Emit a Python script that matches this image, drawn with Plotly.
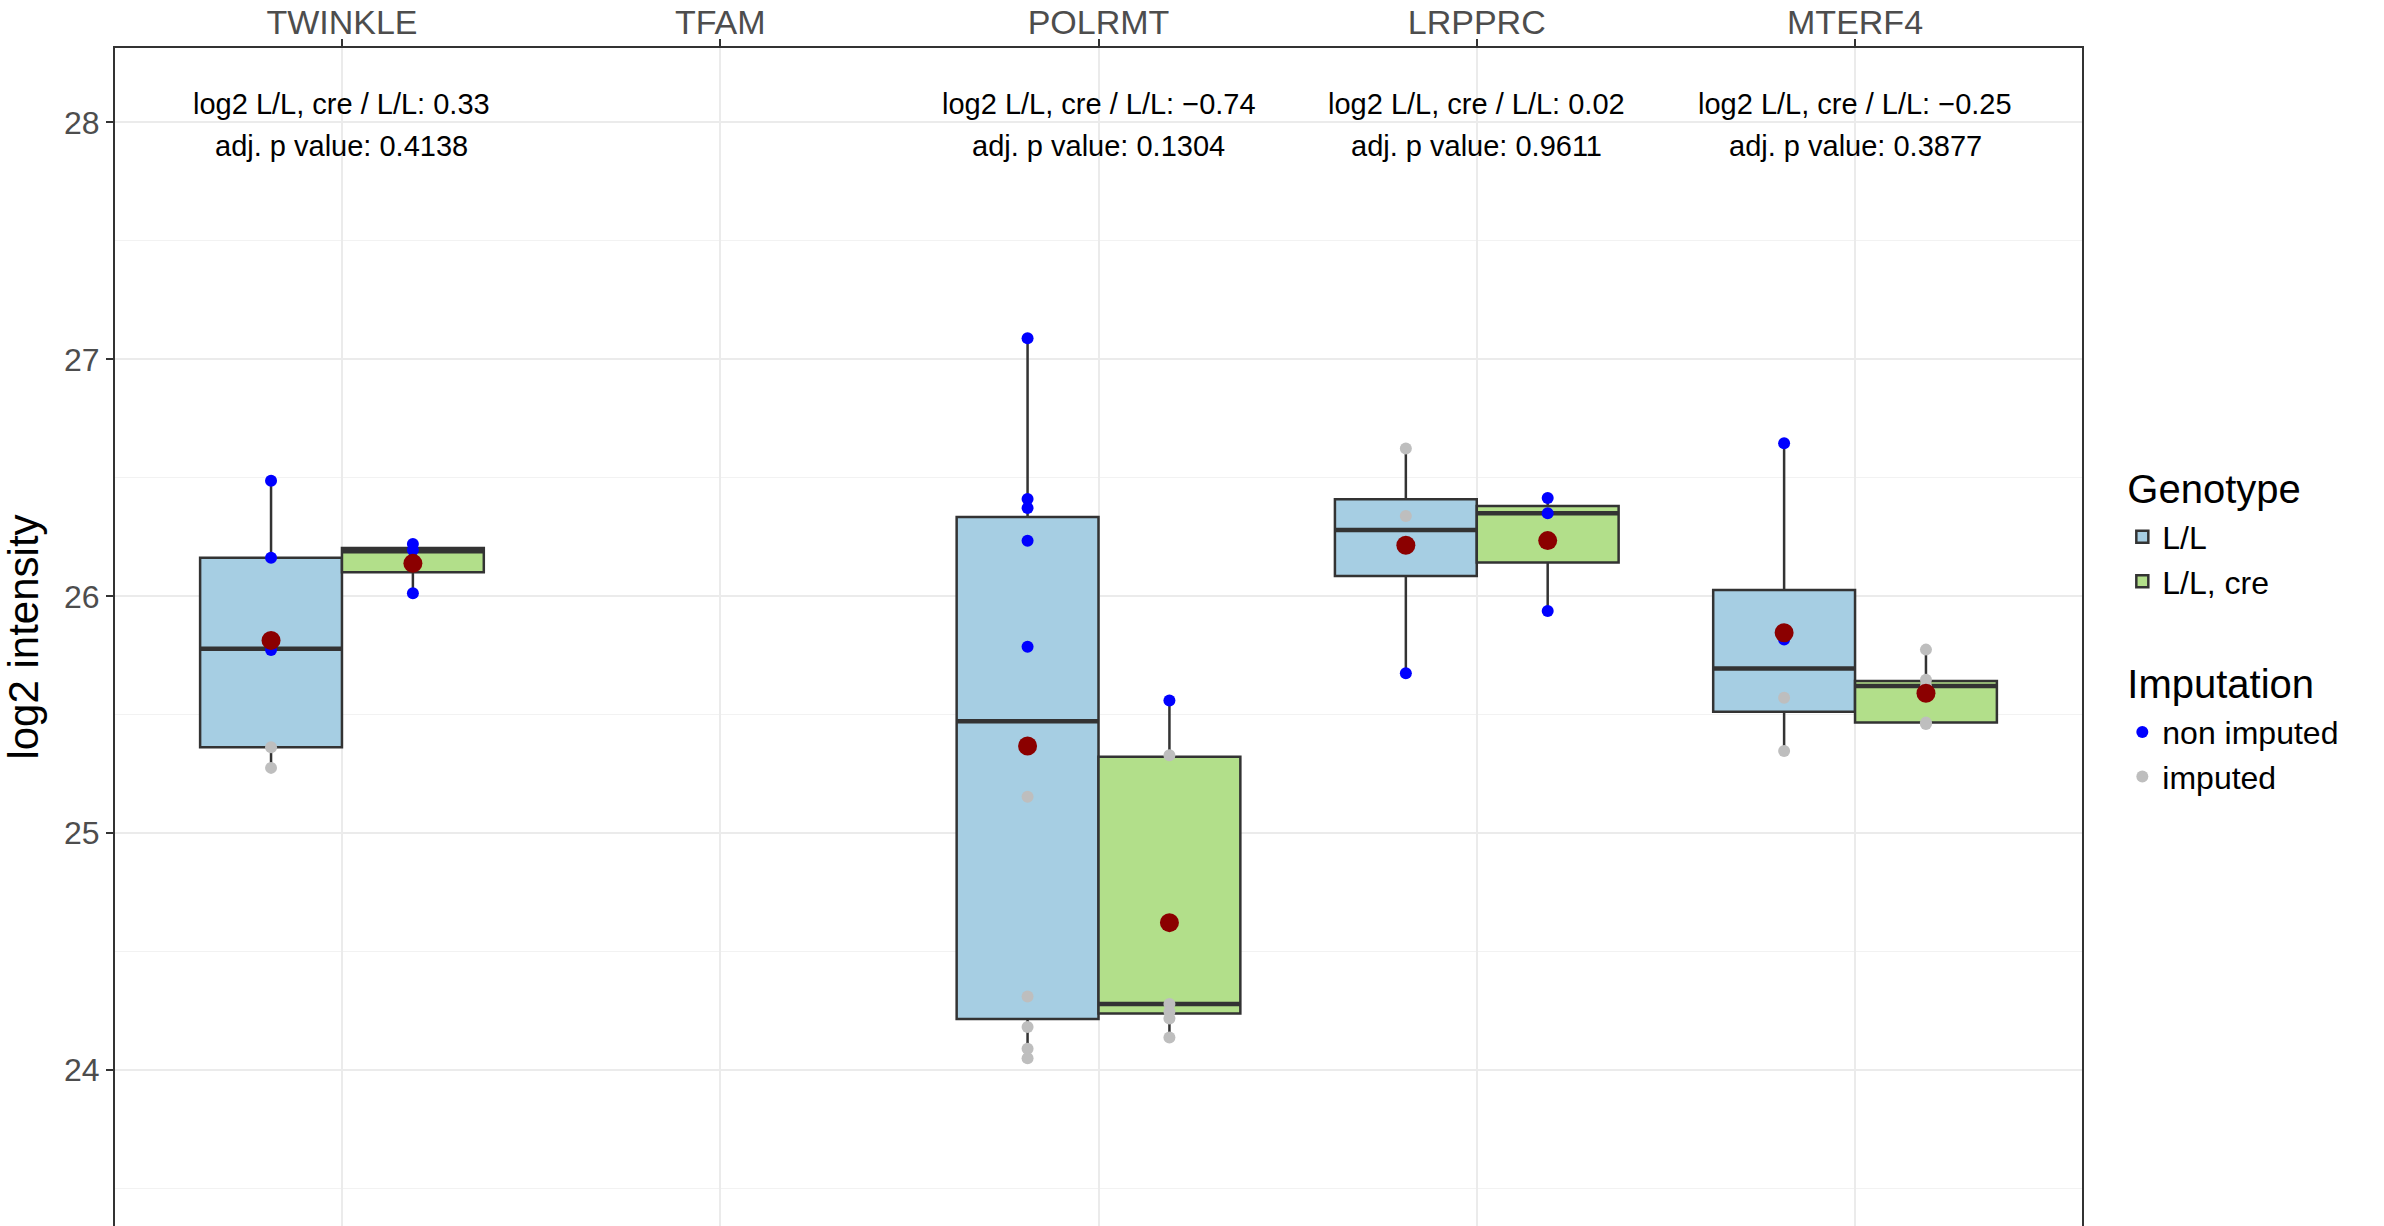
import plotly.graph_objects as go

# ---------------- data ----------------
genes = ["TWINKLE", "TFAM", "POLRMT", "LRPPRC", "MTERF4"]
genotypes = ["L/L", "L/L, cre"]
box_genes = ["TWINKLE", "POLRMT", "LRPPRC", "MTERF4"]

# box statistics per genotype (lower whisker, Q1, median, Q3, upper whisker, mean)
ll_low = [25.276, 24.051, 25.675, 25.347]
ll_q1 = [25.363, 24.216, 26.086, 25.513]
ll_med = [25.779, 25.473, 26.280, 25.695]
ll_q3 = [26.163, 26.335, 26.409, 26.027]
ll_high = [26.488, 27.089, 26.624, 26.646]
ll_mean = [25.814, 25.368, 26.215, 25.846]

cre_low = [26.013, 24.138, 25.938, 25.461]
cre_q1 = [26.101, 24.240, 26.143, 25.467]
cre_med = [26.190, 24.280, 26.350, 25.622]
cre_q3 = [26.204, 25.323, 26.381, 25.643]
cre_high = [26.221, 25.560, 26.415, 25.775]
cre_mean = [26.139, 24.623, 26.235, 25.591]

# individual samples
sample_gene = (["TWINKLE"] * 5 + ["TWINKLE"] * 3 +
               ["POLRMT"] * 10 + ["POLRMT"] * 6 +
               ["LRPPRC"] * 4 + ["LRPPRC"] * 3 +
               ["MTERF4"] * 4 + ["MTERF4"] * 5)
sample_geno = (["L/L"] * 5 + ["L/L, cre"] * 3 +
               ["L/L"] * 10 + ["L/L, cre"] * 6 +
               ["L/L"] * 4 + ["L/L, cre"] * 3 +
               ["L/L"] * 4 + ["L/L, cre"] * 5)
sample_value = [26.488, 26.163, 25.773, 25.363, 25.276,
                26.221, 26.195, 26.013,
                27.089, 26.411, 26.373, 26.234, 25.787, 25.154, 24.311, 24.183, 24.091, 24.051,
                25.560, 25.329, 24.280, 24.247, 24.219, 24.138,
                26.624, 26.339, 26.223, 25.675,
                26.415, 26.350, 25.938,
                26.646, 25.818, 25.572, 25.347,
                25.775, 25.648, 25.622, 25.467, 25.461]
sample_imputed = [False, False, False, True, True,
                  False, False, False,
                  False, False, False, False, False, True, True, True, True, True,
                  False, True, True, True, True, True,
                  True, True, False, False,
                  False, False, False,
                  False, False, True, True,
                  True, True, True, True, True]

# statistics annotations (None = no test)
log2_ratio = [0.33, None, -0.74, 0.02, -0.25]
adj_p = [0.4138, None, 0.1304, 0.9611, 0.3877]

# ---------------- style ----------------
FONT = "Liberation Sans, Arial, Helvetica, sans-serif"
box_width = 0.375
fills = {"L/L": "#A6CEE3", "L/L, cre": "#B2DF8A"}
dodge = {g: (i - 0.5) * box_width for i, g in enumerate(genotypes)}
edge = "#333333"

def xpos(gene, geno):
    return genes.index(gene) + dodge[geno]

fig = go.Figure()

stats = {
    "L/L": (ll_low, ll_q1, ll_med, ll_q3, ll_high, ll_mean),
    "L/L, cre": (cre_low, cre_q1, cre_med, cre_q3, cre_high, cre_mean),
}

for geno in genotypes:
    low, q1, med, q3, high, mean = stats[geno]
    xs = [xpos(g, geno) for g in box_genes]
    fig.add_trace(go.Box(
        x=xs, lowerfence=low, q1=q1, median=med, q3=q3, upperfence=high,
        width=box_width, whiskerwidth=0, boxpoints=False,
        fillcolor=fills[geno], line=dict(color=edge, width=2.5),
        name=geno, legendgroup="geno",
        legendgrouptitle=dict(text="Genotype", font=dict(size=40, color="black", family=FONT)),
        hoverinfo="skip",
    ))

# thick median lines (ggplot fatten)
for geno in genotypes:
    low, q1, med, q3, high, mean = stats[geno]
    mx, my = [], []
    for g, m in zip(box_genes, med):
        c = xpos(g, geno)
        mx += [c - box_width / 2, c + box_width / 2, None]
        my += [m, m, None]
    fig.add_trace(go.Scatter(x=mx, y=my, mode="lines", line=dict(color=edge, width=4.5),
                             showlegend=False, hoverinfo="skip"))

# sample points
for imp, label, col in [(False, "non imputed", "#0000FF"), (True, "imputed", "#BEBEBE")]:
    xs = [xpos(g, t) for g, t, f in zip(sample_gene, sample_geno, sample_imputed) if f == imp]
    ys = [v for v, f in zip(sample_value, sample_imputed) if f == imp]
    fig.add_trace(go.Scatter(
        x=xs, y=ys, mode="markers", marker=dict(color=col, size=12),
        name=label, legendgroup="imp",
        legendgrouptitle=dict(text="Imputation", font=dict(size=40, color="black", family=FONT)),
    ))

# means
for geno in genotypes:
    mean = stats[geno][5]
    fig.add_trace(go.Scatter(
        x=[xpos(g, geno) for g in box_genes], y=mean, mode="markers",
        marker=dict(color="#8B0000", size=19), showlegend=False, hoverinfo="skip"))

# annotations
ann_y1 = 28.078
ann_y2 = 27.900
for i, g in enumerate(genes):
    if log2_ratio[i] is None:
        continue
    r = f"{log2_ratio[i]:.2f}".replace("-", "\u2212")
    fig.add_annotation(x=i, y=ann_y1, xref="x", yref="y", showarrow=False,
                       text=f"log2 L/L, cre / L/L: {r}",
                       font=dict(size=29, color="black", family=FONT), yanchor="middle")
    fig.add_annotation(x=i, y=ann_y2, xref="x", yref="y", showarrow=False,
                       text=f"adj. p value: {adj_p[i]:.4f}",
                       font=dict(size=29, color="black", family=FONT), yanchor="middle")

fig.update_layout(
    width=2384, height=1226, autosize=False,
    margin=dict(l=115, r=302, t=48, b=0, pad=0),
    plot_bgcolor="white", paper_bgcolor="white",
    font=dict(family=FONT),
    showlegend=True,
    legend=dict(x=1.0205, xanchor="left", y=0.655, yanchor="top",
                font=dict(size=32, color="black", family=FONT),
                tracegroupgap=51, itemsizing="trace", traceorder="grouped",
                bgcolor="rgba(0,0,0,0)"),
    xaxis=dict(
        range=[-0.6, len(genes) - 0.4], tickmode="array", automargin=False,
        tickvals=list(range(len(genes))), ticktext=genes, side="top",
        showgrid=True, gridcolor="#EBEBEB", gridwidth=2, zeroline=False,
        showline=True, linecolor=edge, linewidth=2, mirror=False,
        ticks="outside", ticklen=7, tickwidth=2, tickcolor=edge,
        ticklabelstandoff=-9,
        tickfont=dict(size=34, color="#4D4D4D", family=FONT),
    ),
    yaxis=dict(
        range=[23.343, 28.3135], tickmode="linear", tick0=24, dtick=1, automargin=False,
        showgrid=True, gridcolor="#EBEBEB", gridwidth=2, zeroline=False,
        minor=dict(showgrid=True, gridcolor="#F2F2F2", gridwidth=1.2, dtick=0.5, tick0=23.5, ticks=""),
        showline=True, linecolor=edge, linewidth=2, mirror=True,
        ticks="outside", ticklen=7, tickwidth=2, tickcolor=edge,
        tickfont=dict(size=32, color="#4D4D4D", family=FONT),
        title=dict(text="log2 intensity", font=dict(size=42, color="black", family=FONT), standoff=12),
    ),
)

fig.write_html("out.html", config={"displayModeBar": False},
               post_script="document.body.style.margin='0';document.body.style.overflow='hidden';")
